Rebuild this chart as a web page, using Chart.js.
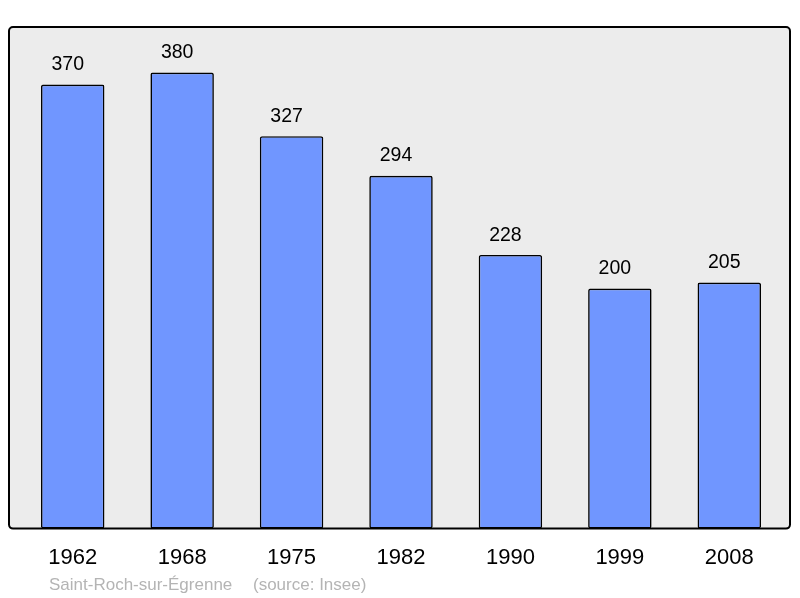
<!DOCTYPE html>
<html><head><meta charset="utf-8">
<script src="https://cdn.jsdelivr.net/npm/chart.js@4"></script>
<style>html,body{margin:0;padding:0;background:#fff}#w{width:800px;height:598px;position:relative}</style>
</head><body><div id="w"><canvas id="c" width="800" height="598"></canvas></div>
<script>
const years = ["1962","1968","1975","1982","1990","1999","2008"];
const population = [370,380,327,294,228,200,205];
const placeName = "Saint-Roch-sur-Égrenne";
const sourceText = "(source: Insee)";
const FONT = "'Liberation Sans', Arial, sans-serif";

const framePlugin = {
  id:'frame',
  beforeDatasetsDraw(chart){
    const {ctx, chartArea:a} = chart;
    ctx.save();
    const l=a.left-9, r=a.right+6, t=a.top, b=a.bottom;
    ctx.beginPath();
    ctx.roundRect(l,t,r-l,b-t,4);
    ctx.fillStyle='#ececec'; ctx.fill();
    ctx.restore();
  },
  afterDatasetsDraw(chart){
    const {ctx, chartArea:a} = chart;
    ctx.save();
    const l=a.left-9, r=a.right+6, t=a.top, b=a.bottom;
    ctx.beginPath();
    ctx.roundRect(l,t,r-l,b-t,4);
    ctx.lineWidth=2; ctx.strokeStyle='#000'; ctx.stroke();
    // value labels
    const meta = chart.getDatasetMeta(0);
    ctx.fillStyle='#000'; ctx.font="19.5px "+FONT; ctx.textAlign='center'; ctx.textBaseline='alphabetic';
    meta.data.forEach((bar,i)=>{ ctx.fillText(String(population[i]), bar.x-5, bar.y-14.5); });
    // source
    ctx.fillStyle='#b4b4b4'; ctx.font="17px "+FONT; ctx.textAlign='left';
    ctx.fillText(placeName, 49, 590);
    ctx.fillText(sourceText, 253, 590);
    ctx.restore();
  }
};

new Chart(document.getElementById('c'), {
  type:'bar',
  data:{labels:years, datasets:[{data:population, backgroundColor:'#7096ff', borderColor:'#000', borderWidth:1.6, borderRadius:2, borderSkipped:false, barPercentage:0.58, categoryPercentage:1}]},
  options:{
    responsive:false, animation:false,
    layout:{padding:{left:18, right:16, top:27, bottom:11}},
    plugins:{legend:{display:false}, tooltip:{enabled:false}},
    scales:{
      y:{display:false, min:0, max:418},
      x:{grid:{display:false, drawTicks:false}, border:{display:false},
         ticks:{color:'#000', font:{size:22, family:FONT}, padding:16}}
    }
  },
  plugins:[framePlugin]
});
</script></body></html>
